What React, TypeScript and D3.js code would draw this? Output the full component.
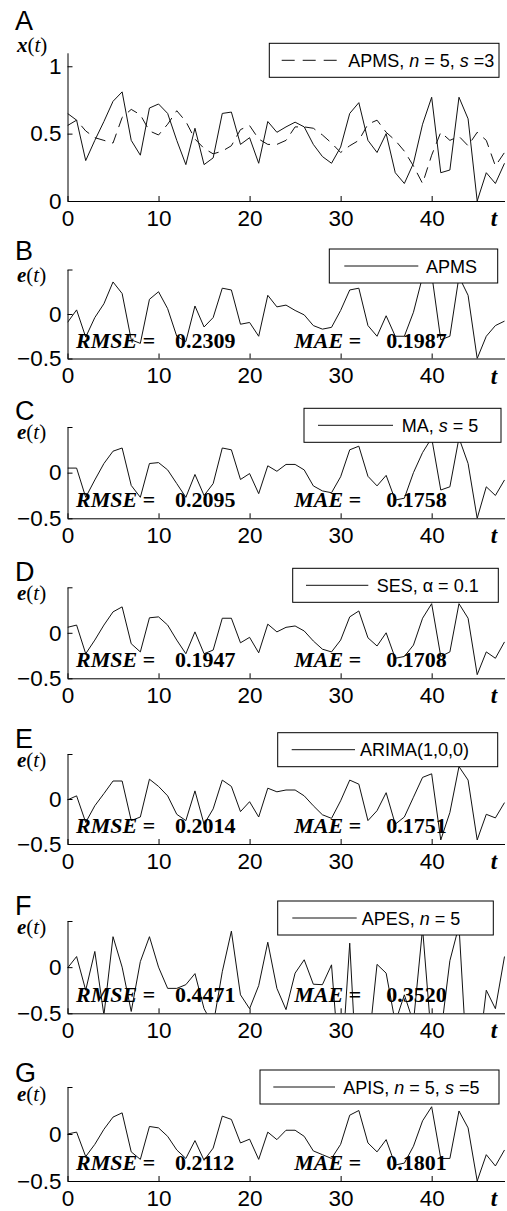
import React, { useRef, useEffect } from 'react';
import * as d3 from 'd3';

const W = 507;
const H = 1211;

// observed series x(t) and the APMS forecast (dashed) of panel A
const observed = [0.65, 0.6, 0.3, 0.45, 0.59, 0.74, 0.81, 0.45, 0.34, 0.69, 0.72, 0.65, 0.45, 0.27, 0.54, 0.27, 0.32, 0.65, 0.66, 0.42, 0.47, 0.28, 0.59, 0.51, 0.55, 0.585, 0.55, 0.42, 0.33, 0.28, 0.4, 0.65, 0.73, 0.45, 0.36, 0.5, 0.21, 0.13, 0.28, 0.57, 0.77, 0.21, 0.23, 0.77, 0.61, 0.0, 0.21, 0.13, 0.28];
const apmsForecast = [0.56, 0.6, 0.52, 0.47, 0.45, 0.43, 0.62, 0.68, 0.64, 0.52, 0.49, 0.57, 0.67, 0.59, 0.46, 0.39, 0.35, 0.37, 0.41, 0.53, 0.56, 0.46, 0.42, 0.42, 0.45, 0.55, 0.55, 0.54, 0.49, 0.43, 0.36, 0.41, 0.45, 0.57, 0.6, 0.51, 0.45, 0.37, 0.26, 0.13, 0.34, 0.51, 0.45, 0.48, 0.41, 0.51, 0.45, 0.26, 0.36];

// forecast errors e(t), panels B..G
const errApms = [-0.095, 0.046, -0.26, -0.04, 0.115, 0.36, 0.23, -0.29, -0.33, 0.165, 0.25, 0.06, -0.25, -0.31, 0.09, -0.146, -0.04, 0.29, 0.27, -0.115, -0.095, -0.25, 0.21, 0.08, 0.1, 0.04, -0.01, -0.13, -0.17, -0.15, 0.04, 0.27, 0.29, -0.13, -0.25, -0.02, -0.25, -0.25, 0.02, 0.42, 0.45, -0.29, -0.25, 0.42, 0.21, -0.5, -0.25, -0.13, -0.08];
const errMa = [0.05, 0.05, -0.27, -0.08, 0.1, 0.235, 0.27, -0.14, -0.27, 0.1, 0.11, 0.03, -0.12, -0.27, -0.02, -0.25, -0.12, 0.27, 0.25, -0.075, -0.01, -0.23, 0.075, 0.015, 0.09, 0.09, 0.03, -0.145, -0.2, -0.22, -0.045, 0.25, 0.29, -0.04, -0.145, -0.03, -0.3, -0.28, 0.0, 0.22, 0.38, -0.19, -0.155, 0.38, 0.1, -0.5, -0.155, -0.25, -0.08];
const errSes = [0.06, 0.085, -0.23, -0.08, 0.085, 0.23, 0.285, -0.12, -0.21, 0.165, 0.175, 0.085, -0.08, -0.23, 0.01, -0.23, -0.19, 0.16, 0.16, -0.11, -0.05, -0.22, 0.095, 0.01, 0.06, 0.075, 0.02, -0.09, -0.18, -0.21, -0.08, 0.175, 0.24, -0.055, -0.145, 0.0, -0.28, -0.26, -0.135, 0.16, 0.32, -0.26, -0.21, 0.32, 0.16, -0.46, -0.21, -0.28, -0.1];
const errArima = [-0.01, 0.035, -0.26, -0.075, 0.06, 0.2, 0.2, -0.24, -0.2, 0.22, 0.14, 0.035, -0.17, -0.24, 0.09, -0.28, -0.11, 0.21, 0.14, -0.14, -0.03, -0.2, 0.12, 0.08, 0.1, 0.1, 0.035, -0.075, -0.175, -0.215, -0.02, 0.21, 0.165, -0.24, -0.13, 0.07, -0.28, -0.2, 0.02, 0.24, 0.28, -0.455, -0.15, 0.36, 0.21, -0.455, -0.17, -0.21, -0.04];
const errApes = [-0.01, 0.115, -0.25, 0.17, -0.52, 0.33, 0.0, -0.48, 0.06, 0.33, 0.0, -0.23, -0.23, -0.19, -0.07, -0.45, -0.63, -0.05, 0.39, -0.3, -0.45, -0.2, 0.27, -0.23, -0.46, -0.065, 0.08, -0.185, -0.19, 0.025, -1.25, 0.26, -1.6, -0.92, 0.03, -0.065, -0.6, -0.3, -0.6, 0.42, -0.81, -0.73, 0.07, 0.45, -1.25, -1.08, -0.25, -0.45, 0.115];
const errApis = [0.0, 0.02, -0.24, -0.11, 0.05, 0.18, 0.225, -0.19, -0.27, 0.08, 0.065, -0.025, -0.17, -0.26, -0.07, -0.28, -0.15, 0.19, 0.155, -0.095, -0.055, -0.27, 0.02, -0.06, 0.04, 0.04, -0.025, -0.18, -0.22, -0.26, -0.11, 0.2, 0.25, -0.095, -0.19, -0.06, -0.33, -0.31, -0.13, 0.14, 0.29, -0.26, -0.26, 0.245, 0.065, -0.5, -0.22, -0.34, -0.17];

const errorSeries = [errApms, errMa, errSes, errArima, errApes, errApis];
const rmseValues = ['0.2309', '0.2095', '0.1947', '0.2014', '0.4471', '0.2112'];
const maeValues = ['0.1987', '0.1758', '0.1708', '0.1751', '0.3520', '0.1801'];

// legend texts, [text, italic]
const legendLabels = [
  [['APMS, ', false], ['n', true], [' = 5, ', false], ['s', true], [' =3', false]],
  [['APMS', false]],
  [['MA, ', false], ['s', true], [' = 5', false]],
  [['SES, \u03b1 = 0.1', false]],
  [['ARIMA(1,0,0)', false]],
  [['APES, ', false], ['n', true], [' = 5', false]],
  [['APIS, ', false], ['n', true], [' = 5, ', false], ['s', true], [' =5', false]],
];

const xTicks = [0, 10, 20, 30, 40];
const panelLetters = ['A', 'B', 'C', 'D', 'E', 'F', 'G'];

// layout of each panel (pixels)
const panelLayout = [
  { top: 52.8, bottom: 201, letterY: 30, labelY: 52, box: [269.3, 43.3, 229.7], line: [281.7, 343.3], textX: 348.3 },
  { top: 269.5, bottom: 358.5, letterY: 260, labelY: 282, box: [329.3, 249, 168.4], line: [344.3, 418.3], textX: 426 },
  { top: 427, bottom: 518.3, letterY: 420, labelY: 439, box: [304, 408.3, 197], line: [318, 393], textX: 401.7 },
  { top: 587.3, bottom: 678.3, letterY: 581, labelY: 600, box: [292.7, 568.3, 205.6], line: [306, 368.3], textX: 376.7 },
  { top: 754, bottom: 844, letterY: 748, labelY: 767, box: [277.7, 732.7, 220], line: [291.7, 355], textX: 360 },
  { top: 921, bottom: 1013.3, letterY: 915, labelY: 934, box: [277.7, 901, 215.6], line: [292.3, 356.7], textX: 361.7 },
  { top: 1087, bottom: 1181, letterY: 1082, labelY: 1101, box: [260, 1070, 239], line: [273.3, 335], textX: 343.3 },
];

const SANS = 'Liberation Sans, Arial, sans-serif';
const SERIF = 'Liberation Serif, Times New Roman, serif';

const App = () => {
  const svgRef = useRef(null);

  useEffect(() => {
    const svg = d3.select(svgRef.current);
    svg.selectAll('*').remove();

    const x = d3.scaleLinear().domain([0, 48]).range([67.5, 504.5]);
    const defs = svg.append('defs');

    panelLayout.forEach((p, i) => {
      const isA = i === 0;
      const y = d3
        .scaleLinear()
        .domain(isA ? [0, 1.1] : [-0.5, 0.5])
        .range([p.bottom, p.top]);
      const g = svg.append('g');

      // clip for lines
      const clipId = `clip-${i}`;
      defs
        .append('clipPath')
        .attr('id', clipId)
        .append('rect')
        .attr('x', x(0))
        .attr('y', p.top - 4)
        .attr('width', x(48) - x(0) + 1)
        .attr('height', p.bottom - p.top + 4);

      const line = d3
        .line()
        .x((d, k) => x(k))
        .y((d) => y(d));

      const series = isA ? [observed, apmsForecast] : [errorSeries[i - 1]];
      series.forEach((s, k) => {
        g.append('path')
          .attr('d', line(s))
          .attr('clip-path', `url(#${clipId})`)
          .attr('fill', 'none')
          .attr('stroke', '#111')
          .attr('stroke-width', 1)
          .attr('stroke-dasharray', isA && k === 1 ? '11,7' : null);
      });

      // axes
      const xAxis = d3
        .axisBottom(x)
        .tickValues(xTicks)
        .tickSizeInner(-5)
        .tickSizeOuter(0)
        .tickPadding(9)
        .tickFormat(d3.format('d'));
      const yAxis = d3
        .axisLeft(y)
        .tickValues(isA ? [0, 0.5, 1] : [-0.5, 0, 0.5])
        .tickSizeInner(-5)
        .tickSizeOuter(0)
        .tickPadding(6)
        .tickFormat((d) => (!isA && d === 0.5 ? '' : d3.format('')(d)));

      const xg = g.append('g').attr('transform', `translate(0,${p.bottom})`).call(xAxis);
      const yg = g.append('g').attr('transform', `translate(${x(0)},0)`).call(yAxis);
      [xg, yg].forEach((ag) => {
        ag.attr('font-family', SANS).attr('font-size', 22.5);
        ag.select('.domain').attr('stroke', '#000');
        ag.selectAll('.tick line').attr('stroke', '#000');
        ag.selectAll('.tick text').attr('fill', '#000');
      });

      // "t" label
      g.append('text')
        .attr('x', 494)
        .attr('y', p.bottom + 25)
        .attr('text-anchor', 'middle')
        .attr('font-family', SERIF)
        .attr('font-weight', 'bold')
        .attr('font-style', 'italic')
        .attr('font-size', 23)
        .text('t');

      // panel letter
      g.append('text')
        .attr('x', 15)
        .attr('y', p.letterY)
        .attr('font-family', SANS)
        .attr('font-size', 27)
        .text(panelLetters[i]);

      // y label x(t) / e(t)
      const yl = g
        .append('text')
        .attr('x', 17)
        .attr('y', p.labelY)
        .attr('font-family', SERIF)
        .attr('font-size', 21);
      yl.append('tspan').attr('font-weight', 'bold').attr('font-style', 'italic').text(isA ? 'x' : 'e');
      yl.append('tspan').text('(');
      yl.append('tspan').attr('font-style', 'italic').text('t');
      yl.append('tspan').text(')');

      // RMSE / MAE
      if (!isA) {
        const ty = p.bottom - 11;
        const stat = (tx, str, italic) =>
          g
            .append('text')
            .attr('x', x(tx))
            .attr('y', ty)
            .attr('font-family', SERIF)
            .attr('font-weight', 'bold')
            .attr('font-style', italic ? 'italic' : 'normal')
            .attr('font-size', 22)
            .text(str);
        stat(0.93, 'RMSE =', true);
        stat(11.8, rmseValues[i - 1], false);
        stat(24.9, 'MAE =', true);
        stat(35, maeValues[i - 1], false);
      }

      // legend
      const [bx, by, bw] = p.box;
      const lg = g.append('g');
      lg.append('rect')
        .attr('x', bx)
        .attr('y', by)
        .attr('width', bw)
        .attr('height', 34)
        .attr('fill', '#fff')
        .attr('stroke', '#000')
        .attr('stroke-width', 1);
      lg.append('line')
        .attr('x1', p.line[0])
        .attr('x2', p.line[1])
        .attr('y1', by + 17)
        .attr('y2', by + 17)
        .attr('stroke', '#111')
        .attr('stroke-width', 1)
        .attr('stroke-dasharray', isA ? '13,8' : null);
      const lt = lg
        .append('text')
        .attr('x', p.textX)
        .attr('y', by + 23.5)
        .attr('font-family', SANS)
        .attr('font-size', 18);
      legendLabels[i].forEach(([str, it]) => {
        lt.append('tspan')
          .attr('font-style', it ? 'italic' : 'normal')
          .text(str);
      });
    });
  }, []);

  return (
    <svg
      ref={svgRef}
      width={W}
      height={H}
      style={{ position: 'absolute', left: 0, top: 0, background: '#fff', whiteSpace: 'pre' }}
    />
  );
};

export default App;
